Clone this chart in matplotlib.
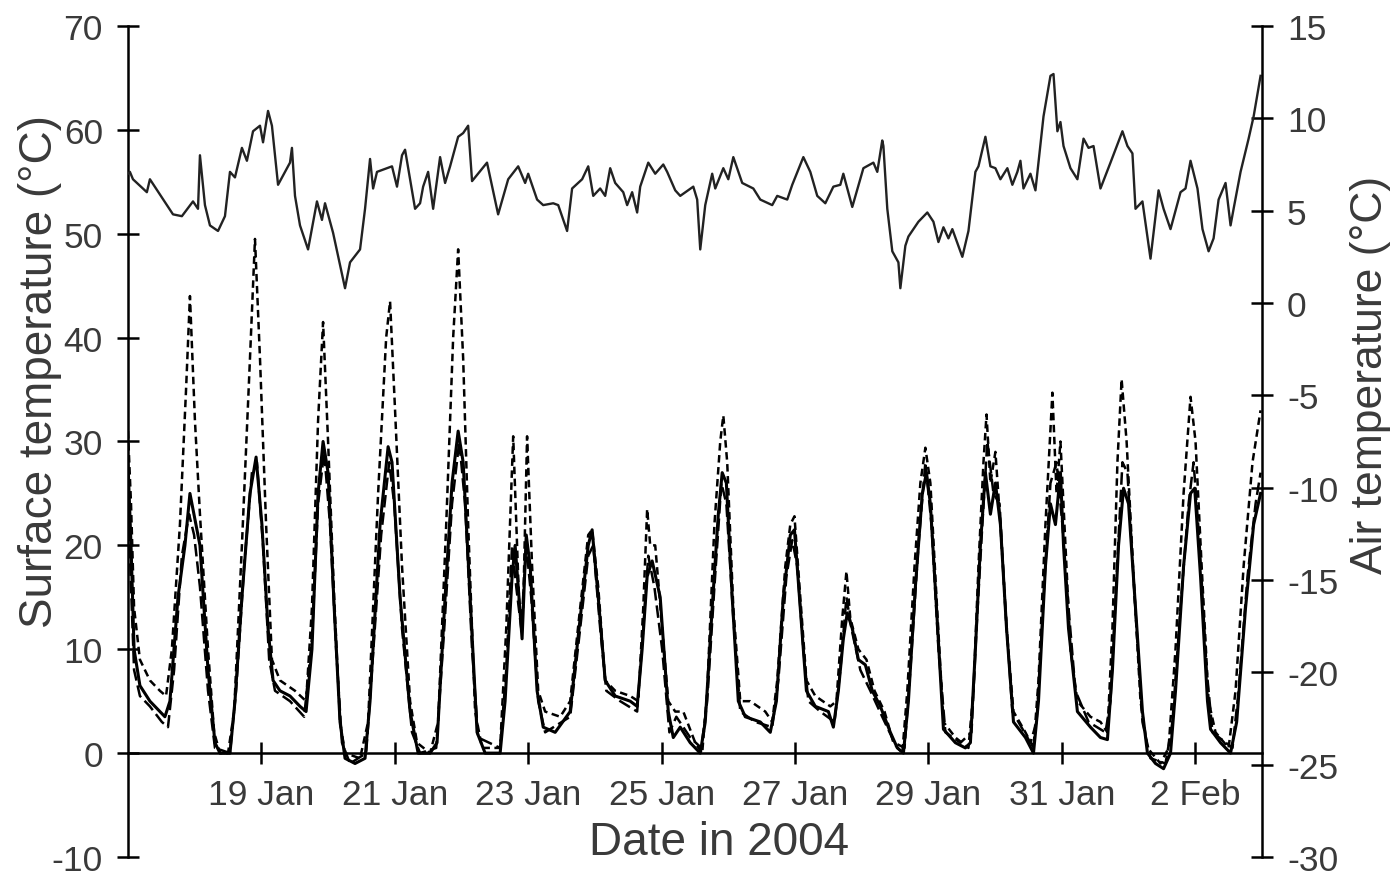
import numpy as np
import matplotlib
matplotlib.use('Agg')
import matplotlib.pyplot as plt

plt.rcParams['font.family'] = ['Liberation Sans', 'DejaVu Sans']
plt.rcParams['axes.unicode_minus'] = False

# hours since 17 Jan 2004 00:00 and surface temperature (deg C)
surf_a_hours = [0, 1.1, 2.2, 4.3, 7.9, 11.5, 13.3, 15.1, 18, 20.5, 22.3, 25.9, 28.8, 31.3, 33.1, 36.7,
                38.5, 41, 43.9, 46.1, 48.2, 50.4, 52.2, 54.7, 58.3, 61.9, 64.1, 66.2, 68.4, 70.2, 72,
                74.2, 76.3, 78.1, 81.7, 85.3, 87.1, 90.7, 93.6, 95, 97.9, 101.5, 104.4, 108.7, 111.2,
                114.1, 116.6, 118.8, 120.6, 123.1, 125.6, 128.5, 133.9, 135.7, 138.2, 139.3, 141.8,
                143.3, 144.7, 147.2, 149.4, 153.7, 159.1, 162.7, 165.6, 167, 169.2, 171.7, 175.3,
                180.7, 183.2, 185, 186.8, 188.6, 191.5, 194.4, 196.2, 198.7, 202.3, 205.9, 207.7,
                210.2, 212.4, 213.8, 215.3, 217.4, 219.6, 222.1, 227.5, 231.1, 233.3, 235.8, 238.3,
                239.8, 241.9, 244.1, 247.3, 252, 253.8, 255.6, 257.4, 258.8, 260.6, 262.8, 265.3,
                267.8, 270.7, 274.3, 276.8, 279, 280.8, 283.3, 285.8, 287.3, 288.7, 290.9, 293.4,
                297.7, 301.3, 303.1, 304.9, 306.7, 308.5, 310.3, 312.1, 313.9, 316.1, 318.6, 322.9,
                325.8, 327.6, 330.1, 331.9, 333.7, 335.5, 336.6, 338.4, 341.6, 346.3, 349.9, 352.4,
                354.2, 356.4, 358.2, 360, 362.5, 365, 366.8, 369.7, 372.6, 375.1, 376.9, 379.8,
                382.3, 383.8, 385.9, 388.4, 389.5, 393.1, 396.7, 398.9, 402.1, 405, 407.5]
surf_a = [28, 20, 10, 6.5, 5, 4, 3.5, 5, 15, 20, 25, 20, 8, 1, 0, 0,
          5, 15, 25, 28.5, 22, 12, 7, 6, 5.5, 4.5, 4, 10, 25, 30, 27,
          14, 3, -0.5, -1, -0.5, 5, 22, 29.5, 28, 15, 4, 0, 0, 1,
          15, 26, 31, 28, 15, 2, 0, 0, 5, 17, 20, 11,
          21, 18, 6, 2.5, 2, 4, 13, 20, 21.5, 15, 7, 5.5,
          5, 4.5, 10, 17, 18.5, 15, 4, 1.5, 2.5, 1, 0, 3,
          14, 23, 27, 26, 15, 5, 3.5, 3, 2, 5, 15, 21,
          21.5, 14, 6, 4.5, 4, 2.5, 6, 11, 13.5, 12, 9, 8.5,
          6, 4.5, 2, 0.5, 0, 5, 16, 25, 27, 24, 14, 2.3,
          1, 0.5, 1, 10, 20, 27, 23, 26, 22, 12, 3, 1.5,
          0, 5, 18, 24, 22, 27, 20, 12, 4, 2.5, 1.5, 1.3,
          8, 20, 25.5, 24, 14, 4, 0, -1, -1.5, 0, 6, 18,
          25, 25.5, 17, 5, 2.3, 1, 0, 3, 14, 22, 25]

surf_b_hours = [0, 1.1, 2.2, 4.3, 7.9, 11.5, 13.7, 15.8, 18.7, 20.9, 22.3, 24.1, 25.9, 28.8, 31, 33.1,
                36, 38.2, 41, 43.9, 45.7, 47.5, 49.7, 51.8, 54.7, 60.1, 64.1, 66.2, 68.4, 70.2, 72,
                74.2, 76.3, 78.1, 83.5, 86.4, 90, 92.9, 94.3, 96.1, 98.6, 101.5, 104, 108.7, 111.6,
                114.5, 117, 118.8, 120.6, 122.4, 124.9, 127.4, 133.9, 136.1, 138.6, 140.8, 142.2,
                143.6, 145.4, 147.6, 150.1, 155.5, 159.1, 162.7, 165.6, 167, 169.2, 171.7, 175.3,
                180.7, 183.6, 185.4, 186.8, 187.9, 189.7, 192.2, 194.4, 196.9, 199.8, 204.1, 206.6,
                208.4, 211, 213.1, 214.2, 215.6, 217.8, 220.3, 223.9, 229.3, 231.8, 233.6, 236.5,
                238.3, 239.8, 241.9, 244.1, 247.3, 252.7, 254.9, 257, 258.5, 259.9, 262.8, 265.7,
                268.6, 272.2, 275.4, 278.6, 280.4, 283, 285.1, 286.9, 288.7, 290.9, 293.4, 297.7,
                302.4, 304.2, 306, 307.8, 308.9, 310.3, 312.1, 313.9, 316.1, 318.6, 322.9, 325.8,
                327.6, 330.1, 332.6, 334.1, 335.5, 337.3, 339.1, 341.6, 346.3, 349.9, 352.4, 354.2,
                356, 357.5, 359.3, 361.8, 364.3, 366.8, 371.5, 374.4, 376.9, 379.8, 382.3, 384.1,
                386.3, 388.8, 391.3, 396, 398.5, 401.4, 404.6, 407.5]
surf_b = [31, 24, 14, 9, 7, 6, 5.5, 10, 22, 35, 44, 32, 23, 10, 2, 0,
          0, 4, 20, 38, 49.5, 38, 22, 9, 7, 6, 5, 14, 32, 41.5, 30,
          15, 3, 0, -0.5, 3, 25, 40, 43.5, 33, 18, 5, 1, 0, 3,
          22, 40, 48.5, 38, 22, 4, 0.5, 0.5, 12, 30.5, 14, 14,
          30.5, 18, 6, 4, 3.5, 5, 14, 21, 21.5, 16, 7, 6,
          5.5, 5, 14, 23.5, 20, 20, 12, 5, 4, 4, 1, 0,
          6, 22, 30, 32.5, 28, 14, 5, 5, 4, 3, 7, 18,
          22, 22.8, 15, 7, 5.5, 4.5, 5, 13, 17.5, 13, 10, 9,
          6, 4, 1, 0, 6, 18, 26, 29.4, 26, 15, 3, 1.5,
          0.5, 6, 18, 28, 32.6, 26, 29, 22, 12, 4, 2, 0.5,
          7, 22, 34.7, 25, 30, 20, 10, 5, 3.5, 3, 2, 12,
          28, 36, 30, 17, 5, 0.5, -1, 0.5, 10, 25, 34.3, 30,
          18, 5, 2, 0.5, 6, 18, 28, 33]

surf_c_hours = [0, 1.1, 2.2, 4.3, 7.9, 12.2, 14.4, 16.6, 19.4, 22, 23.8, 25.9, 28.8, 31.3, 36.7, 38.9,
                41.8, 44.6, 46.4, 48.6, 50.8, 52.9, 58.3, 63.4, 66.2, 68.4, 70.6, 72.7, 74.9, 77,
                79.9, 85.7, 87.8, 91.1, 94, 95.8, 98.6, 102.2, 105.1, 110.9, 113.8, 116.6, 119.2,
                121.3, 123.8, 126, 133.9, 136.1, 138.2, 139.7, 141.5, 143.3, 145.1, 147.6, 150.1,
                159.1, 162.7, 165.6, 167.4, 169.9, 172.1, 177.1, 183.2, 185.4, 187.2, 189.4, 192.2,
                194.8, 197.3, 202.3, 206.3, 208.4, 211, 213.5, 215.3, 217.8, 220.3, 225.7, 231.8,
                234, 236.9, 239, 240.8, 243, 244.8, 249.1, 254.2, 256.3, 258.5, 260.3, 263.5, 267.1,
                271.4, 275.8, 279.4, 281.5, 284.4, 286.9, 289.1, 291.6, 294.1, 299.5, 303.5, 305.3,
                307.4, 309.2, 311.4, 313.6, 315.7, 318.2, 324.7, 326.9, 329.4, 331.9, 334.1, 336.2,
                338.4, 340.9, 345.6, 351.7, 353.5, 355.7, 357.8, 359.6, 362.2, 365, 367.9, 373.3,
                375.8, 378.7, 381.6, 383.4, 385.6, 388.1, 390.2, 397.4, 399.6, 402.8, 405.7, 407.5]
surf_c = [25, 16, 8, 5.5, 4.5, 3, 2.5, 8, 19, 23, 21, 16, 6, 0.5, 0, 6,
          18, 27, 28, 20, 9, 6, 5, 3.5, 11, 24, 29, 22, 10, 1,
          -1, 0, 8, 21, 28, 24, 12, 2, 0, 0.5, 12, 24, 30,
          24, 10, 1.5, 0.5, 8, 20, 16, 12, 20, 15, 5, 2,
          3.5, 12, 19, 20, 12, 6, 5, 4, 12, 19, 16, 10,
          2, 3.5, 1.5, 0.5, 5, 16, 26, 24, 13, 4, 3, 2.5,
          7, 17, 20.5, 18, 10, 5, 4, 3, 8, 15, 12, 8, 6,
          3.5, 1, 0.5, 8, 20, 28, 22, 10, 2, 1, 2, 12,
          22, 30, 25, 24, 14, 4, 1, 3, 15, 26, 28, 22,
          14, 6, 3, 2, 5, 17, 28, 27, 15, 3, -0.5, -1,
          3, 14, 24, 28, 20, 8, 2, 0.5, 6, 17, 24, 27]

# air temperature (deg C, right axis)
air_hours = [0, 0.7, 1.8, 6.8, 7.9, 16.2, 19.4, 23.4, 25.2, 25.9, 27.7, 29.5, 32.4, 34.9, 36.7, 38.5,
             41, 42.8, 45, 47.5, 48.6, 50.4, 51.8, 54, 58.3, 59, 60.1, 61.9, 64.8, 68, 69.8, 70.9,
             73.8, 78.1, 79.9, 83.5, 85.3, 87.1, 88.2, 89.6, 95, 96.8, 98.6, 99.7, 103.3, 105.1,
             106.2, 108, 109.8, 112.3, 114.1, 115.9, 118.8, 120.6, 122.4, 123.8, 129.2, 133.2,
             136.8, 140.4, 142.9, 144, 147.2, 149.4, 153, 154.8, 158, 159.8, 163.4, 165.6, 167.4,
             169.9, 171.7, 173.5, 175.3, 178.2, 179.6, 181.4, 183.2, 184.3, 187.2, 189.7, 192.6,
             194, 196.9, 198.7, 203.4, 204.8, 205.9, 207.7, 210.2, 211.3, 214.2, 216, 217.8, 221,
             225, 227.5, 231.8, 233.6, 237.2, 239, 243, 245.5, 248, 250.9, 253.8, 256.3, 257.4,
             258.8, 260.6, 264.6, 268.2, 269.6, 271.4, 271.8, 273.2, 275, 277.2, 277.9, 279.7,
             280.8, 284.4, 287.6, 289.8, 291.6, 293.4, 295.2, 296.6, 300.2, 302.4, 304.9, 306,
             308.5, 310.3, 312.1, 313.9, 316.4, 318.2, 320, 321.1, 322.2, 324.7, 326.5, 329.4,
             331.9, 333, 334.4, 335.5, 336.6, 339.1, 341.6, 343.8, 345.6, 347.4, 349.9, 353.5,
             357.8, 359.6, 361.4, 362.5, 365, 367.9, 370.8, 372.6, 375.1, 378.7, 380.5, 382.3,
             384.8, 386.6, 388.8, 390.6, 392.4, 394.9, 396.7, 397.8, 400.3, 403.2, 405, 407.5]
air_temp = [7.0, 7.1, 6.7, 6.0, 6.7, 4.8, 4.7, 5.5, 5.1, 8.0, 5.3, 4.2, 3.9, 4.7, 7.1, 6.8,
            8.4, 7.7, 9.3, 9.6, 8.7, 10.4, 9.6, 6.4, 7.6, 8.4, 5.8, 4.2, 2.9, 5.5, 4.5, 5.4,
            3.8, 0.8, 2.2, 2.9, 5.1, 7.8, 6.2, 7.1, 7.4, 6.3, 8.0, 8.3, 5.1, 5.4,
            6.3, 7.1, 5.1, 7.9, 6.5, 7.4, 9.0, 9.2, 9.6, 6.6, 7.6, 4.8,
            6.7, 7.4, 6.5, 7.0, 5.6, 5.3, 5.4, 5.3, 3.9, 6.2, 6.7, 7.4, 5.8,
            6.2, 5.8, 7.3, 6.5, 6.0, 5.3, 6.0, 4.9, 6.3, 7.6, 7.0, 7.5,
            7.1, 6.1, 5.8, 6.3, 5.6, 2.9, 5.3, 7.0, 6.2, 7.3, 6.7, 7.9, 6.5,
            6.2, 5.6, 5.3, 5.8, 5.6, 6.4, 7.9, 7.1, 5.8, 5.4, 6.3, 6.4, 7.0,
            6.2, 5.2, 7.3, 7.6, 7.1, 8.8, 8.5, 5.1, 2.8, 2.2, 0.8, 3.1,
            3.6, 4.4, 4.9, 4.4, 3.3, 4.1, 3.5, 4.0, 2.5, 3.9, 7.1, 7.4,
            9.0, 7.4, 7.3, 6.7, 7.3, 6.4, 7.1, 7.7, 6.2, 7.0, 6.1, 10.1,
            12.3, 12.4, 9.3, 9.8, 8.5, 7.3, 6.7, 8.9, 8.4, 8.5, 6.2, 7.6,
            9.3, 8.5, 8.1, 5.1, 5.5, 2.4, 6.1, 5.1, 4.0, 6.0, 6.2, 7.7,
            6.2, 4.0, 2.8, 3.5, 5.6, 6.5, 4.2, 5.1, 7.1, 8.9, 10.1, 12.3]

tick_dates = ['2004-01-19', '2004-01-21', '2004-01-23', '2004-01-25',
              '2004-01-27', '2004-01-29', '2004-01-31', '2004-02-02']
tick_labels = ['19 Jan', '21 Jan', '23 Jan', '25 Jan', '27 Jan', '29 Jan', '31 Jan', '2 Feb']

start = np.datetime64('2004-01-17T00:00')


def to_time(hours):
    return start + (np.array(hours) * 60).astype(int).astype('timedelta64[m]')


text_col = '#3a3a3a'
fig = plt.figure(figsize=(14, 8.79), dpi=100)
ax = fig.add_axes([0.0914, 0.0239, 0.81, 0.9454])

ax.plot(to_time(surf_c_hours), surf_c, color='black', lw=1.8, ls=(0, (5, 2)))
ax.plot(to_time(surf_b_hours), surf_b, color='black', lw=1.8, ls=(0, (3, 1.8)))
ax.plot(to_time(surf_a_hours), surf_a, color='black', lw=2.2)

ax.set_ylim(-10, 70)
ax.set_xlim(start, start + np.timedelta64(17, 'D'))
ax.set_yticks(range(-10, 71, 10))
ax.set_xticks(np.array(tick_dates, dtype='datetime64[m]'))
ax.set_xticklabels(tick_labels)

ax.spines['bottom'].set_position(('data', 0))
ax.spines['top'].set_visible(False)
ax.spines['right'].set_visible(False)
for s in ['bottom', 'left']:
    ax.spines[s].set_linewidth(1.8)
ax.tick_params(direction='inout', length=16, width=1.8, labelsize=25.5, colors='black',
               labelcolor=text_col)
ax.tick_params(axis='x', pad=10)
ax.tick_params(axis='y', pad=10)
ax.set_ylabel('Surface temperature (°C)', fontsize=33, color=text_col)
ax.yaxis.set_label_coords(-0.058, 0.585)
ax.set_xlabel('Date in 2004', fontsize=33, color=text_col)
ax.xaxis.set_label_coords(0.521, 0.045)

ax2 = ax.twinx()
ax2.plot(to_time(air_hours), air_temp, color='#222222', lw=1.7)
ax2.set_ylim(-30, 15)
ax2.set_yticks(range(-30, 16, 5))
for s in ['top', 'bottom', 'left']:
    ax2.spines[s].set_visible(False)
ax2.spines['right'].set_linewidth(1.8)
ax2.tick_params(direction='inout', length=16, width=1.8, labelsize=25.5, colors='black',
                labelcolor=text_col, pad=10)
ax2.set_ylabel('Air temperature (°C)', fontsize=32, color=text_col)
ax2.yaxis.set_label_coords(1.0775, 0.581)

fig.savefig('out.png', dpi=100)
